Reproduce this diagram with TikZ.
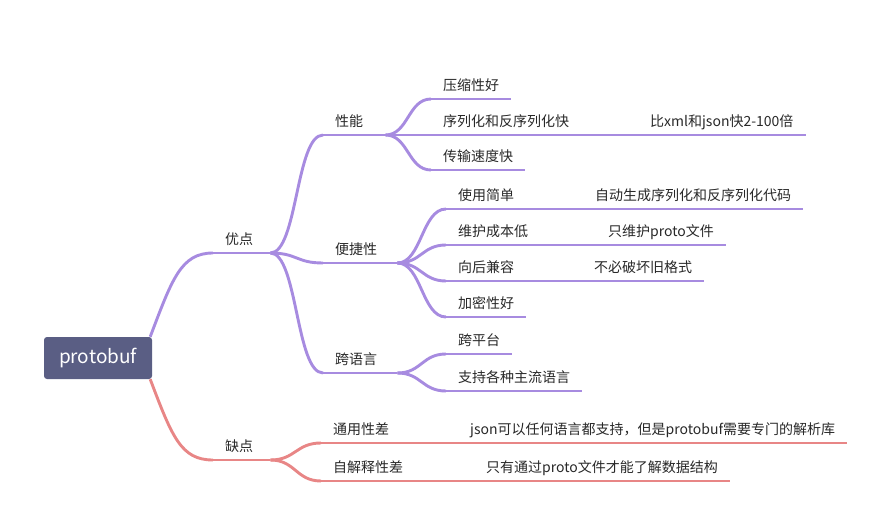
\documentclass[tikz,border=0pt]{standalone}
\usepackage{fontspec}
\setmainfont{Noto Sans CJK SC}
\usetikzlibrary{positioning}
\definecolor{mapviolet}{RGB}{167,139,224}
\definecolor{mapred}{RGB}{232,134,134}
\definecolor{mapnavy}{RGB}{90,94,132}
\definecolor{maptext}{RGB}{40,40,40}

\begin{document}
\begin{tikzpicture}[x=1pt,y=-1pt,
  topic/.style={anchor=south west,inner xsep=12pt,inner ysep=0pt,text depth=8.5pt,
                font=\fontsize{14}{16}\selectfont,text=maptext},
  hub/.style={topic,text width=#1,align=left},
  good/.style={draw=mapviolet,line width=2.9pt},
  bad/.style={draw=mapred,line width=2.9pt}]
\useasboundingbox (0,0) rectangle (893,521);
\node[fill=mapnavy,rounded corners=3pt,minimum width=108pt,minimum height=42pt,
      inner sep=0pt,text=white,font=\fontsize{19}{22}\selectfont] (root) at (98,358) {protobuf};
% first level
\node[hub=33pt] (adv) at (213,253) {优点};
\node[hub=33pt] (dis) at (213,460) {缺点};
% advantages
\node[hub=38pt] (perf) at (323,135) {性能};
\node[hub=50pt] (conv) at (323,263) {便捷性};
\node[hub=50pt] (lang) at (323,373) {跨语言};
\node[topic] (cmp) at (431,99) {压缩性好};
\node[hub=132pt] (ser) at (431,135) {序列化和反序列化快};
\node[topic] (trans) at (431,170) {传输速度快};
\node[topic] (fast) at (638,135) {比xml和json快2-100倍};
\node[hub=60pt] (easy) at (446,209) {使用简单};
\node[hub=74pt] (cheap) at (446,245) {维护成本低};
\node[hub=60pt] (compat) at (446,281) {向后兼容};
\node[topic] (enc) at (446,317) {加密性好};
\node[topic] (auto) at (583,209) {自动生成序列化和反序列化代码};
\node[topic] (only) at (596,245) {只维护proto文件};
\node[topic] (keep) at (582,281) {不必破坏旧格式};
\node[topic] (plat) at (446,354) {跨平台};
\node[topic] (main) at (446,391) {支持各种主流语言};
% disadvantages
\node[hub=56pt] (gen) at (321,443) {通用性差};
\node[hub=74pt] (self) at (321,481) {自解释性差};
\node[topic] (json) at (458,443) {json可以任何语言都支持，但是protobuf需要专门的解析库};
\node[topic] (rel) at (474,481) {只有通过proto文件才能了解数据结构};

\foreach \n in {adv,perf,conv,lang,cmp,ser,trans,fast,easy,cheap,compat,enc,auto,only,keep,plat,main}
  \draw[good] (\n.south west) -- (\n.south east);
\foreach \n in {dis,gen,self,json,rel}
  \draw[bad] (\n.south west) -- (\n.south east);

\draw[good] ([xshift=-2pt]root.north east) .. controls +(22,-58) and +(-32,0) .. (adv.south west);
\draw[bad] ([xshift=-2pt]root.south east) .. controls +(22,58) and +(-32,0) .. (dis.south west);
\foreach \c in {perf,conv,lang}
  \draw[good] (adv.south east) .. controls +(27,0) and +(-27,0) .. (\c.south west);
\foreach \c in {cmp,ser,trans}
  \draw[good] (perf.south east) .. controls +(23,0) and +(-23,0) .. (\c.south west);
\foreach \c in {easy,cheap,compat,enc}
  \draw[good] (conv.south east) .. controls +(24,0) and +(-24,0) .. (\c.south west);
\foreach \c in {plat,main}
  \draw[good] (lang.south east) .. controls +(24,0) and +(-24,0) .. (\c.south west);
\draw[good] (ser.south east) -- (fast.south west);
\draw[good] (easy.south east) -- (auto.south west);
\draw[good] (cheap.south east) -- (only.south west);
\draw[good] (compat.south east) -- (keep.south west);
\foreach \c in {gen,self}
  \draw[bad] (dis.south east) .. controls +(25,0) and +(-25,0) .. (\c.south west);
\draw[bad] (gen.south east) -- (json.south west);
\draw[bad] (self.south east) -- (rel.south west);
\end{tikzpicture}
\end{document}
